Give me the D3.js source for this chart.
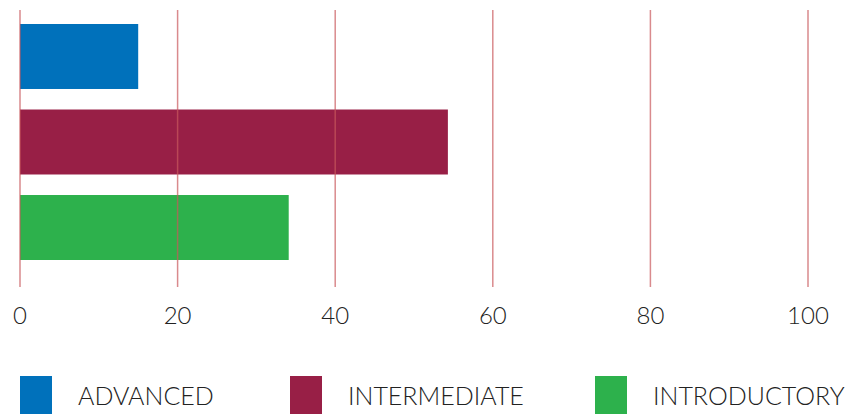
<!DOCTYPE html>
<html>
<head>
<meta charset="utf-8">
<script src="https://cdn.jsdelivr.net/npm/d3@7"></script>
<style>
  body { margin: 0; background: #fff; }
  text { font-family: Lato, "Open Sans", sans-serif; font-weight: 300; fill: #222; }
</style>
</head>
<body>
<div id="chart"></div>
<script>
const categories = ["ADVANCED", "INTERMEDIATE", "INTRODUCTORY"]
const values = [15, 54.3, 34.1]
const colors = ["#0071bb", "#981f46", "#2db14c"]
const ticks = [0, 20, 40, 60, 80, 100]

const width = 864
const height = 414

const svg = d3.select("#chart")
    .append("svg")
    .attr("width", width)
    .attr("height", height)

const x = d3.scaleLinear()
    .domain([0, 100])
    .range([20, 808])

const y = d3.scaleBand()
    .domain(categories)
    .range([24, 260])
    .paddingInner(0.24)
    .paddingOuter(0)

svg.selectAll(".bar")
    .data(categories)
    .enter().append("rect")
    .attr("class", "bar")
    .attr("x", x(0))
    .attr("y", d => y(d))
    .attr("width", (d, i) => x(values[i]) - x(0))
    .attr("height", y.bandwidth())
    .attr("fill", (d, i) => colors[i])

// grid lines sit on top of the bars
svg.selectAll(".grid")
    .data(ticks)
    .enter().append("line")
    .attr("class", "grid")
    .attr("x1", d => x(d))
    .attr("x2", d => x(d))
    .attr("y1", 10)
    .attr("y2", 287)
    .attr("stroke", "#c9585c")
    .attr("stroke-opacity", 0.7)
    .attr("stroke-width", 1.5)

svg.selectAll(".tick-label")
    .data(ticks)
    .enter().append("text")
    .attr("class", "tick-label")
    .attr("x", d => x(d))
    .attr("y", 324)
    .attr("text-anchor", "middle")
    .attr("font-size", "24px")
    .text(d => d)

const legendX = [20, 290, 595]

const legend = svg.selectAll(".legend")
    .data(categories)
    .enter().append("g")
    .attr("class", "legend")
    .attr("transform", (d, i) => `translate(${legendX[i]},376)`)

legend.append("rect")
    .attr("width", 32)
    .attr("height", 38)
    .attr("fill", (d, i) => colors[i])

legend.append("text")
    .attr("x", 58)
    .attr("y", 29)
    .attr("font-size", "25px")
    .text(d => d)
</script>
</body>
</html>
